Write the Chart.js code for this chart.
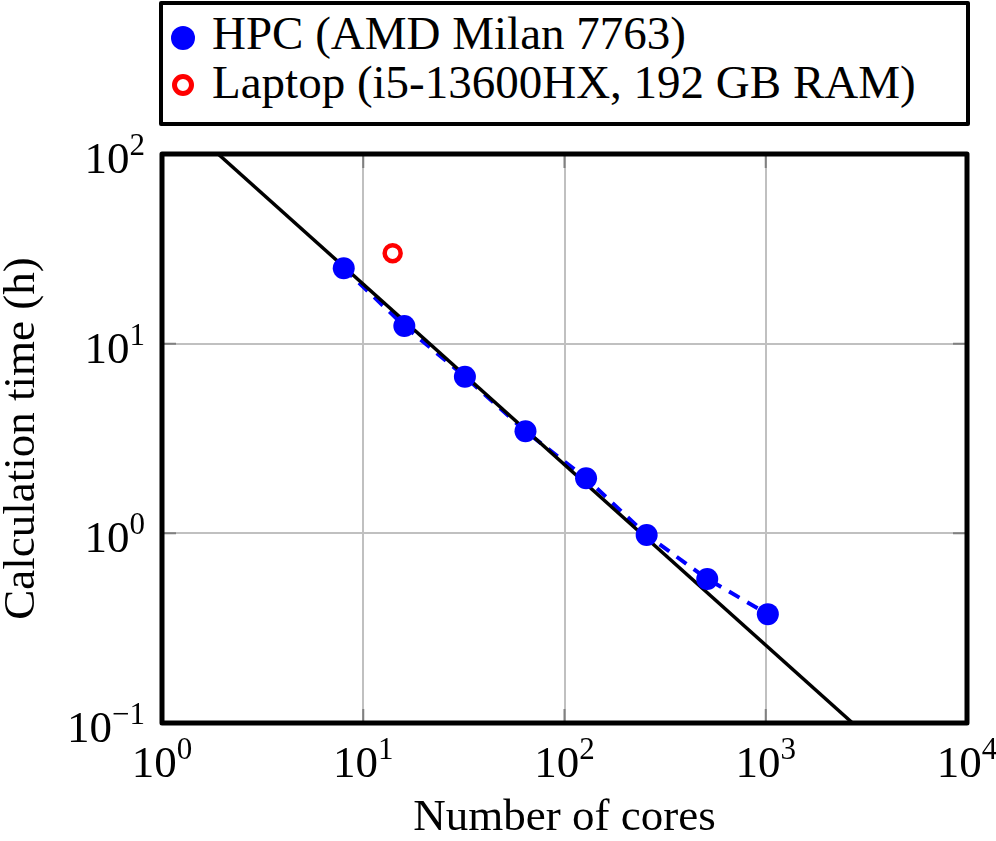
<!DOCTYPE html>
<html>
<head>
<meta charset="utf-8">
<script src="https://cdn.jsdelivr.net/npm/chart.js@4/dist/chart.umd.min.js"></script>
<style>
  html, body { margin: 0; padding: 0; background: #fff; }
  #wrap { position: relative; width: 996px; height: 841px; }
  #chart { position: absolute; left: 0; top: 0; }
  #legend { position: absolute; left: 159px; top: 1px; width: 811px; height: 125px; box-sizing: border-box;
    border: 4.5px solid #000; border-radius: 2px; background: #fff;
    font-family: 'Liberation Serif', 'Times New Roman', serif; font-size: 47px; color: #000; }
  .lg-text { position: absolute; left: 49px; line-height: 47px; white-space: nowrap; }
  .lg-mark { position: absolute; border-radius: 50%; box-sizing: border-box; }
</style>
</head>
<body>
<div id="wrap">
  <canvas id="chart" width="996" height="841"></canvas>
  <div id="legend"></div>
</div>
<script>
// measured series
const hpcCores = [8, 16, 32, 64, 128, 256, 512, 1024];
const hpcHours = [25, 12.4, 6.7, 3.45, 1.95, 0.98, 0.575, 0.375];
const laptopCores = [14];
const laptopHours = [30];
// ideal scaling reference line (end points)
const idealCores = [1.9, 2700];
const idealHours = [100, 0.1];

const xTicks = [1, 10, 100, 1000, 10000];
const yTicks = [0.1, 1, 10, 100];

const hpcLabel = 'HPC (AMD Milan 7763)';
const laptopLabel = 'Laptop (i5-13600HX, 192 GB RAM)';

const SERIF = "'Liberation Serif', 'Times New Roman', serif";
const BLUE = '#0000ff', RED = '#ff0000';

function pts(xs, ys){ return xs.map((x,i)=>({x, y: ys[i]})); }
function expText(v){ const e = Math.round(Math.log10(v)); return e < 0 ? '\u2212' + (-e) : String(e); }

// pgfplots-like frame, inner tick marks and 10^n labels
const framePlugin = {
  id: 'frame',
  afterDraw(chart){
    const {ctx, chartArea:a, scales:{x, y}} = chart;
    ctx.save();
    ctx.strokeStyle = '#808080'; ctx.lineWidth = 2;
    xTicks.forEach(v=>{
      if (v <= x.min || v >= x.max) return;
      const px = x.getPixelForValue(v);
      ctx.beginPath();
      ctx.moveTo(px, a.bottom); ctx.lineTo(px, a.bottom - 14);
      ctx.moveTo(px, a.top); ctx.lineTo(px, a.top + 14);
      ctx.stroke();
    });
    yTicks.forEach(v=>{
      if (v <= y.min || v >= y.max) return;
      const py = y.getPixelForValue(v);
      ctx.beginPath();
      ctx.moveTo(a.left, py); ctx.lineTo(a.left + 14, py);
      ctx.moveTo(a.right, py); ctx.lineTo(a.right - 14, py);
      ctx.stroke();
    });
    ctx.strokeStyle = '#000'; ctx.lineWidth = 5; ctx.lineJoin = 'round';
    ctx.strokeRect(a.left, a.top, a.right - a.left, a.bottom - a.top);

    ctx.fillStyle = '#000'; ctx.textBaseline = 'alphabetic'; ctx.textAlign = 'left';
    const big = '45px ' + SERIF, small = '31px ' + SERIF;
    const measure = (e)=>{
      ctx.font = big; const w1 = ctx.measureText('10').width;
      ctx.font = small; const w2 = ctx.measureText(e).width;
      return [w1, w2];
    };
    const draw = (e, left, base)=>{
      ctx.font = big; ctx.fillText('10', left, base);
      const w1 = ctx.measureText('10').width;
      ctx.font = small; ctx.fillText(e, left + w1, base - 18);
    };
    xTicks.forEach(v=>{
      const e = expText(v); const [w1, w2] = measure(e);
      const px = x.getPixelForValue(v);
      draw(e, px - (w1 + w2)/2, a.bottom + 54);
    });
    yTicks.forEach(v=>{
      const e = expText(v); const [w1, w2] = measure(e);
      const py = y.getPixelForValue(v);
      draw(e, 145 - (w1 + w2), py + 19);
    });
    ctx.restore();
  }
};

const logAxis = (min, max, ticks, title, fit)=>({
  type: 'logarithmic', min, max,
  afterBuildTicks: s=>{ s.ticks = ticks.map(v=>({value: v})); },
  afterFit: fit,
  grid: { color: '#c0c0c0', lineWidth: 2, drawTicks: false },
  border: { display: false },
  ticks: { display: false },
  title: { display: true, text: title, color: '#000', padding: 0,
           font: { family: SERIF, size: 45, lineHeight: 1 } }
});

new Chart(document.getElementById('chart'), {
  type: 'scatter',
  data: {
    datasets: [
      { label: hpcLabel, data: pts(hpcCores, hpcHours), order: 0, showLine: false,
        pointRadius: 11, pointHoverRadius: 11, pointBackgroundColor: BLUE, pointBorderWidth: 0, borderColor: BLUE },
      { label: laptopLabel, data: pts(laptopCores, laptopHours), order: 0, showLine: false,
        pointRadius: 8, pointHoverRadius: 8, pointBackgroundColor: '#fff', pointBorderColor: RED, pointBorderWidth: 4.5 },
      { label: 'ideal', data: pts(idealCores, idealHours), order: 1, showLine: true,
        borderColor: '#000', borderWidth: 3.5, pointRadius: 0, pointHoverRadius: 0 },
      { label: 'hpc line', data: pts(hpcCores, hpcHours), order: 2, showLine: true,
        borderColor: BLUE, borderWidth: 4, borderDash: [12, 9], pointRadius: 0, pointHoverRadius: 0 }
    ]
  },
  options: {
    responsive: false, animation: false, devicePixelRatio: 1,
    layout: { padding: { top: 154, right: 29, left: 0, bottom: 0 } },
    plugins: { legend: { display: false }, tooltip: { enabled: false } },
    scales: {
      x: logAxis(1, 10000, xTicks, 'Number of cores', s=>{ s.height = 118; }),
      y: logAxis(0.1, 100, yTicks, 'Calculation time (h)', s=>{ s.width = 162; })
    }
  },
  plugins: [framePlugin]
});

// legend box (HTML)
const lg = document.getElementById('legend');
[[hpcLabel, 'fill'], [laptopLabel, 'ring']].forEach(([txt, kind], i)=>{
  const m = document.createElement('div');
  m.className = 'lg-mark';
  if (kind === 'fill'){
    Object.assign(m.style, { left: (183-159-4.5-12)+'px', top: (38-1-4.5-12)+'px', width: '24px', height: '24px', background: BLUE });
  } else {
    Object.assign(m.style, { left: (183-159-4.5-11)+'px', top: (85-1-4.5-11)+'px', width: '22px', height: '22px', border: '5px solid ' + RED, background: '#fff' });
  }
  lg.appendChild(m);
  const t = document.createElement('div');
  t.className = 'lg-text';
  t.textContent = txt;
  t.style.top = (i === 0 ? 5 : 54) + 'px';
  lg.appendChild(t);
});
</script>
</body>
</html>
